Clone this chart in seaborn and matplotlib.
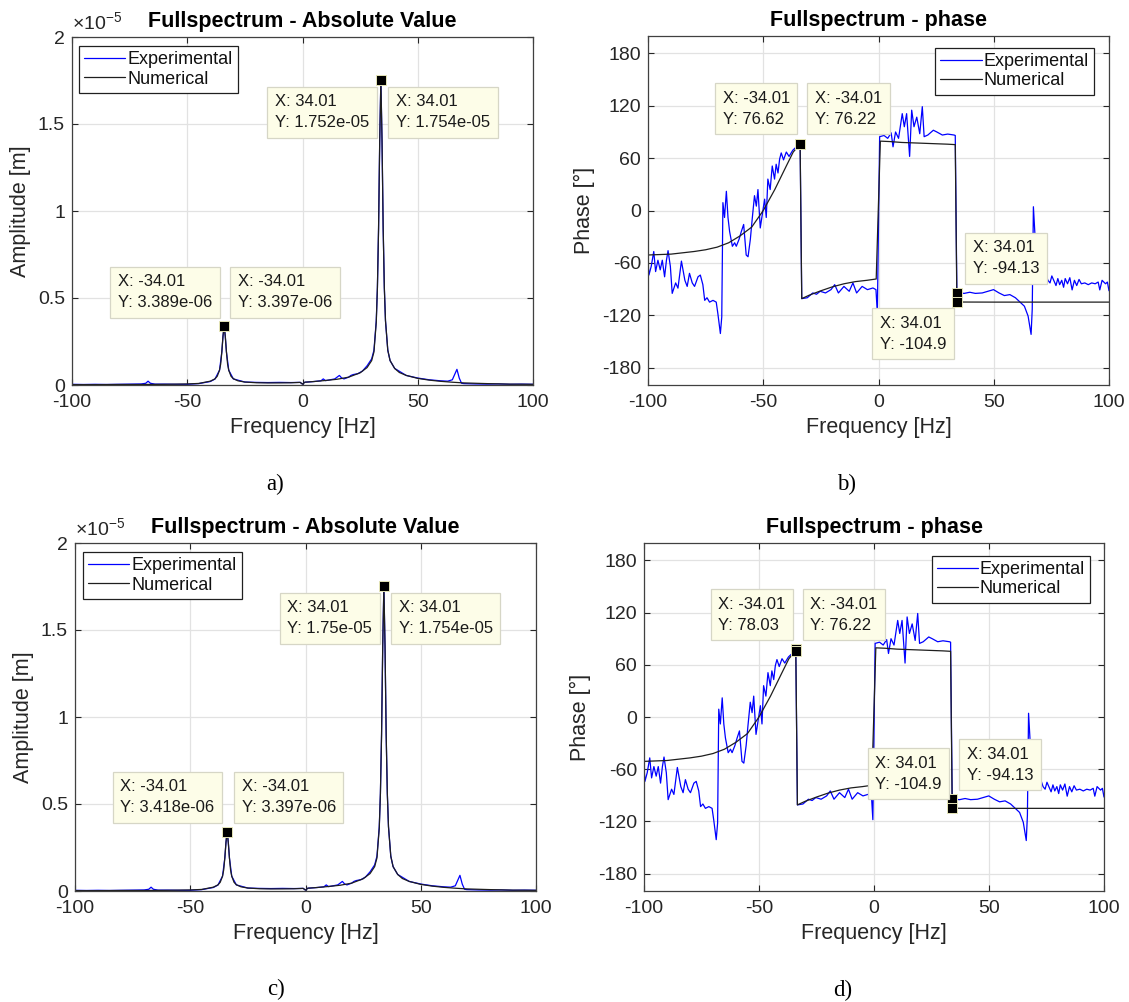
import matplotlib
matplotlib.use("Agg")
import matplotlib.pyplot as plt
import seaborn as sns
import pandas as pd

# ---------------- data (amplitudes in units of 1e-5 m) ----------------
amp_num_freq = [-100, -90, -80, -70, -60, -50, -45, -40, -38, -37, -36, -35.5, -35, -34.5, -34,
                -33.5, -33, -32.5, -32, -31, -30, -28, -25, -20, -15, -10, -5, -1, 0, 1, 5, 10,
                15, 20, 25, 28, 30, 31, 32, 32.5, 33, 33.5, 34, 34.5, 35, 35.5, 36, 37, 38, 40,
                42, 45, 50, 55, 60, 65, 70, 80, 90, 100]
amp_num_val = [0.002, 0.002, 0.003, 0.003, 0.004, 0.006, 0.009, 0.022, 0.035, 0.05, 0.085, 0.12,
               0.19, 0.28, 0.34, 0.28, 0.19, 0.12, 0.085, 0.05, 0.036, 0.024, 0.017, 0.013, 0.012,
               0.012, 0.013, 0.015, 0.005, 0.016, 0.02, 0.026, 0.033, 0.045, 0.07, 0.1, 0.14, 0.19,
               0.36, 0.56, 0.9, 1.41, 1.754, 1.41, 0.9, 0.56, 0.37, 0.2, 0.14, 0.095, 0.072, 0.055,
               0.038, 0.028, 0.021, 0.016, 0.012, 0.008, 0.005, 0.004]

amp_exp_freq = [-100, -95, -90, -85, -80, -75, -70, -68, -67, -66, -64, -60, -55, -50, -45, -40,
                -38, -36, -35, -34.5, -34, -33.5, -33, -32, -30, -25, -20, -15, -10, -5, -1, 0, 1,
                5, 8, 9, 10, 12, 14, 15, 16, 17, 18, 20, 21, 22, 24, 26, 28, 30, 31, 32, 32.5, 33,
                33.5, 34, 34.5, 35, 35.5, 36, 37, 38, 40, 45, 50, 55, 60, 63, 65, 66, 67, 68, 69,
                70, 75, 80, 85, 90, 95, 100]
amp_exp_val_a = [0.004, 0.003, 0.004, 0.003, 0.004, 0.005, 0.006, 0.01, 0.022, 0.01, 0.005, 0.005,
                 0.004, 0.004, 0.008, 0.02, 0.034, 0.085, 0.19, 0.28, 0.3389, 0.28, 0.19, 0.085,
                 0.035, 0.017, 0.015, 0.014, 0.015, 0.014, 0.015, 0.005, 0.016, 0.02, 0.024, 0.035,
                 0.025, 0.03, 0.035, 0.045, 0.055, 0.04, 0.035, 0.045, 0.055, 0.06, 0.065, 0.08,
                 0.11, 0.15, 0.2, 0.37, 0.56, 0.9, 1.4, 1.752, 1.4, 0.9, 0.56, 0.37, 0.2, 0.14,
                 0.095, 0.055, 0.04, 0.03, 0.024, 0.022, 0.03, 0.06, 0.09, 0.04, 0.01, 0.008, 0.006,
                 0.005, 0.006, 0.004, 0.005, 0.004]
amp_exp_val_c = [0.004, 0.003, 0.004, 0.003, 0.004, 0.005, 0.006, 0.01, 0.022, 0.01, 0.005, 0.005,
                 0.004, 0.004, 0.008, 0.02, 0.034, 0.085, 0.19, 0.28, 0.3418, 0.28, 0.19, 0.085,
                 0.035, 0.017, 0.015, 0.014, 0.015, 0.014, 0.015, 0.005, 0.016, 0.02, 0.024, 0.035,
                 0.025, 0.03, 0.035, 0.045, 0.055, 0.04, 0.035, 0.045, 0.055, 0.06, 0.065, 0.08,
                 0.11, 0.15, 0.2, 0.37, 0.56, 0.9, 1.4, 1.75, 1.4, 0.9, 0.56, 0.37, 0.2, 0.14,
                 0.095, 0.055, 0.04, 0.03, 0.024, 0.022, 0.03, 0.06, 0.09, 0.04, 0.01, 0.008, 0.006,
                 0.005, 0.006, 0.004, 0.005, 0.004]

ph_num_freq = [-100, -90, -80, -75, -70, -65, -60, -55, -50, -45, -40, -37, -34, -33.3, -30, -25,
               -20, -15, -10, -5, -1, 0.8, 5, 10, 20, 30, 33.3, 34, 50, 75, 100]
ph_num_val = [-51, -50, -47, -45, -42, -37, -29, -19, 0, 24, 51, 67, 76.22, -101, -97, -92,
              -87.5, -84, -81.5, -80, -78.5, 79.5, 79, 78, 77, 76, 75.5, -104.9, -105, -105, -105]

ph_exp_freq = [-100, -99.6, -98.6, -97.5, -96.7, -95.7, -94.7, -93.8, -92.8, -92, -91.3, -90.3,
               -89.5, -88, -87, -85.5, -84, -83, -82, -80.8, -79.8, -78.3, -77.3, -76.2, -75.4,
               -74.4, -73.3, -71.8, -70.4, -69.7, -68.6, -68, -67.5, -66.8, -66, -65.3, -64.6,
               -63.4, -62.4, -61.7, -60.5, -59.5, -58.5, -57.4, -56.6, -55.6, -54.8, -53.8, -53,
               -52.3, -51.3, -50.1, -49.4, -48.7, -48, -47, -46.1, -45.1, -44.4, -43.6, -42.9,
               -42.2, -41.2, -40, -38.8, -37.2, -35.6, -34.7, -34, -33.3, -30.9, -28.5, -26.9,
               -25.3, -23, -20.6, -19, -17.4, -15, -12.7, -11.1, -9.5, -7.1, -4.8, -2.4, -1.1,
               -0.5, 0.5, 2.4, 4, 5.5, 6.3, 7.4, 8.7, 10.3, 11.2, 12.2, 13.5, 14.4, 15.4, 16.6,
               17.9, 19, 19.8, 21.4, 23.8, 25.3, 27.7, 30, 32.8, 33.3, 34, 34.8, 37.2, 39.6, 42,
               45, 47.5, 49.9, 52.3, 54.6, 57, 59.4, 61, 63.3, 64.9, 66.2, 66.7, 67.2, 68, 69,
               70.1, 72, 73.5, 74.4, 75.2, 76, 77, 77.8, 78.6, 79.5, 80.3, 81, 82, 83, 84, 85,
               86, 87, 88, 89.5, 91, 92.5, 94, 95.3, 96, 97, 98.5, 99.3, 100]
ph_exp_val = [-57, -74, -64, -47, -70, -57, -68, -57, -76, -57, -46, -64, -95, -83, -89, -58, -80,
              -87, -72, -83, -87, -76, -74, -85, -103, -100, -105, -103, -105, -118, -141, -122, 9,
              -8, 22, -8, -24, -41, -37, -41, -33, -24, -16, -51, -53, -33, -10, 17, 5, 24, -20, 1,
              13, -8, 36, 24, 51, 36, 53, 43, 59, 66, 58, 67, 62, 69, 73, 75, 76.62, -101, -100,
              -94.5, -96, -92.6, -94.5, -90.7, -85, -94.5, -87, -92.6, -83, -94.5, -87, -90.7,
              -88.8, -90.7, -118, 84.6, 86, 82.7, 89, 73, 90, 82.7, 111, 96, 111, 62, 115, 96, 107,
              88, 119, 84.6, 86.5, 92, 90, 86.5, 87.6, 86.5, 86, -94.13, -94.5, -95, -93.7, -95,
              -94.5, -92.6, -90.7, -94.5, -97.5, -96.4, -100, -104, -109.7, -121, -142, -113, 4.3,
              -33.5, -60, -60, -68, -80, -83, -75, -80, -86, -78, -85, -80, -88, -78, -84, -77,
              -91, -80, -86, -79, -84, -83, -85, -83, -84, -82, -91, -80, -84, -82, -92]

tip_amp_x = [-34, 34]
tip_amp_y_a = [0.3389, 0.3397, 1.752, 1.754]
tip_amp_y_c = [0.3418, 0.3397, 1.75, 1.754]
tip_ph_a_pts = [(-34, 76.62), (-34, 76.22), (34, -94.13), (34, -104.9)]
tip_ph_d_pts = [(-34, 78.03), (-34, 76.22), (34, -94.13), (34, -104.9)]

# ---------------- style ----------------
sns.set_theme(style="white")
plt.rcParams['font.family'] = ['Liberation Sans', 'DejaVu Sans']
plt.rcParams['mathtext.fontset'] = 'custom'
plt.rcParams['mathtext.rm'] = 'Liberation Sans'
plt.rcParams['mathtext.it'] = 'Liberation Sans:italic'

DARK = '#262626'
BLUE = '#0000ff'
BLACK = '#1e1e1e'

fig = plt.figure(figsize=(11.29, 10.02), dpi=100)
W, H = 1129.0, 1002.0


def make_ax(left, right, top, bottom):
    return fig.add_axes([left / W, 1 - bottom / H, (right - left) / W, (bottom - top) / H])


def style(ax, ylim, yticks, yticklabels, ylabel, title):
    ax.set_xlim(-100, 100)
    ax.set_ylim(*ylim)
    ax.set_xticks([-100, -50, 0, 50, 100])
    ax.set_xticklabels(['-100', '-50', '0', '50', '100'])
    ax.set_yticks(yticks)
    ax.set_yticklabels(yticklabels)
    ax.grid(True, color='#e2e2e2', lw=0.9)
    ax.set_axisbelow(True)
    ax.tick_params(direction='in', length=4, width=0.8, color=DARK, labelsize=14,
                   labelcolor=DARK, top=True, right=True, bottom=True, left=True)
    ax.tick_params(axis='x', pad=6.5)
    ax.tick_params(axis='y', pad=5)
    for s in ax.spines.values():
        s.set_color('#404040')
        s.set_linewidth(0.9)
    ax.set_xlabel('Frequency [Hz]', fontsize=15.5, color=DARK, labelpad=4)
    ax.set_ylabel(ylabel, fontsize=15.5, color=DARK, labelpad=5)
    ax.set_title(title, fontsize=15.5, fontweight='bold', color='black', pad=7)


def lines(ax, xe, ye, xn, yn):
    sns.lineplot(x=xe, y=ye, ax=ax, color=BLUE, lw=0.9, estimator=None, sort=False,
                 label='Experimental')
    sns.lineplot(x=xn, y=yn, ax=ax, color=BLACK, lw=0.9, estimator=None, sort=False,
                 label='Numerical')


def legend(ax, loc, anchor):
    leg = ax.legend(handles=ax.lines[:2], labels=['Experimental', 'Numerical'], loc=loc,
                    bbox_to_anchor=anchor, borderaxespad=0, fontsize=13, frameon=True,
                    fancybox=False, framealpha=1, edgecolor='#202020', handlelength=2.3,
                    handletextpad=0.1, labelspacing=0.14, borderpad=0.28)
    leg.get_frame().set_linewidth(0.9)
    for t in leg.get_texts():
        t.set_color('#111111')


def markers(ax, pts):
    df = pd.DataFrame(pts, columns=['x', 'y'])
    sns.scatterplot(data=df, x='x', y='y', ax=ax, marker='s', s=52, color='black',
                    edgecolor='#e6e6b8', linewidth=0.7, zorder=5, legend=False)


def tip(ax, left, top, text):
    ax.annotate(text, xy=(left, top), xycoords='data', xytext=(5.4, -5.4),
                textcoords='offset points', ha='left', va='top', fontsize=12,
                color='#1a1a1a', linespacing=1.5, zorder=6,
                bbox=dict(boxstyle='square,pad=0.45', fc='#fdfde8', ec='#d6d6c6', lw=0.9))


def scale_label(ax):
    ax.text(0.0, 1.012, r'$\mathregular{\times10^{-5}}$', transform=ax.transAxes,
            ha='left', va='bottom', fontsize=14, color=DARK)


# ---------------- panel a ----------------
ax = make_ax(72, 533, 37, 385)
lines(ax, amp_exp_freq, amp_exp_val_a, amp_num_freq, amp_num_val)
markers(ax, [(tip_amp_x[0], tip_amp_y_a[0]), (tip_amp_x[1], tip_amp_y_a[3])])
style(ax, (0, 2), [0, 0.5, 1, 1.5, 2], ['0', '0.5', '1', '1.5', '2'], 'Amplitude [m]',
      'Fullspectrum - Absolute Value')
legend(ax, 'upper left', (0.015, 0.974))
scale_label(ax)
tip(ax, -15.2, 1.713, 'X: 34.01\nY: 1.752e-05')
tip(ax, 37.3, 1.713, 'X: 34.01\nY: 1.754e-05')
tip(ax, -83.4, 0.680, 'X: -34.01\nY: 3.389e-06')
tip(ax, -31.3, 0.680, 'X: -34.01\nY: 3.397e-06')

# ---------------- panel b ----------------
ax = make_ax(648, 1109, 36, 385)
lines(ax, ph_exp_freq, ph_exp_val, ph_num_freq, ph_num_val)
markers(ax, tip_ph_a_pts)
style(ax, (-200, 200), [-180, -120, -60, 0, 60, 120, 180],
      ['-180', '-120', '-60', '0', '60', '120', '180'], 'Phase [°]', 'Fullspectrum - phase')
legend(ax, 'upper right', (0.967, 0.966))
tip(ax, -70.9, 145.8, 'X: -34.01\nY: 76.62')
tip(ax, -30.9, 145.8, 'X: -34.01\nY: 76.22')
tip(ax, 37.6, -25.4, 'X: 34.01\nY: -94.13')
tip(ax, -2.8, -112.1, 'X: 34.01\nY: -104.9')

# ---------------- panel c ----------------
ax = make_ax(75, 536, 543, 891)
lines(ax, amp_exp_freq, amp_exp_val_c, amp_num_freq, amp_num_val)
markers(ax, [(tip_amp_x[0], tip_amp_y_c[0]), (tip_amp_x[1], tip_amp_y_c[3])])
style(ax, (0, 2), [0, 0.5, 1, 1.5, 2], ['0', '0.5', '1', '1.5', '2'], 'Amplitude [m]',
      'Fullspectrum - Absolute Value')
legend(ax, 'upper left', (0.017, 0.974))
scale_label(ax)
tip(ax, -11.1, 1.713, 'X: 34.01\nY: 1.75e-05')
tip(ax, 37.2, 1.713, 'X: 34.01\nY: 1.754e-05')
tip(ax, -83.6, 0.684, 'X: -34.01\nY: 3.418e-06')
tip(ax, -31.0, 0.684, 'X: -34.01\nY: 3.397e-06')

# ---------------- panel d ----------------
ax = make_ax(644, 1104, 543, 891)
lines(ax, ph_exp_freq, ph_exp_val, ph_num_freq, ph_num_val)
markers(ax, tip_ph_d_pts)
style(ax, (-200, 200), [-180, -120, -60, 0, 60, 120, 180],
      ['-180', '-120', '-60', '0', '60', '120', '180'], 'Phase [°]', 'Fullspectrum - phase')
legend(ax, 'upper right', (0.970, 0.963))
tip(ax, -71.0, 146.8, 'X: -34.01\nY: 78.03')
tip(ax, -31.0, 146.8, 'X: -34.01\nY: 76.22')
tip(ax, -2.7, -36.0, 'X: 34.01\nY: -104.9')
tip(ax, 37.0, -25.6, 'X: 34.01\nY: -94.13')

# ---------------- panel letters ----------------
for lbl, x, y in [('a)', 275, 484), ('b)', 847, 484), ('c)', 276, 989), ('d)', 843, 990)]:
    fig.text(x / W, 1 - y / H, lbl, ha='center', va='center', fontsize=16.5,
             family=['Liberation Serif', 'DejaVu Serif'], color='black')

fig.savefig('out.png', dpi=100)
